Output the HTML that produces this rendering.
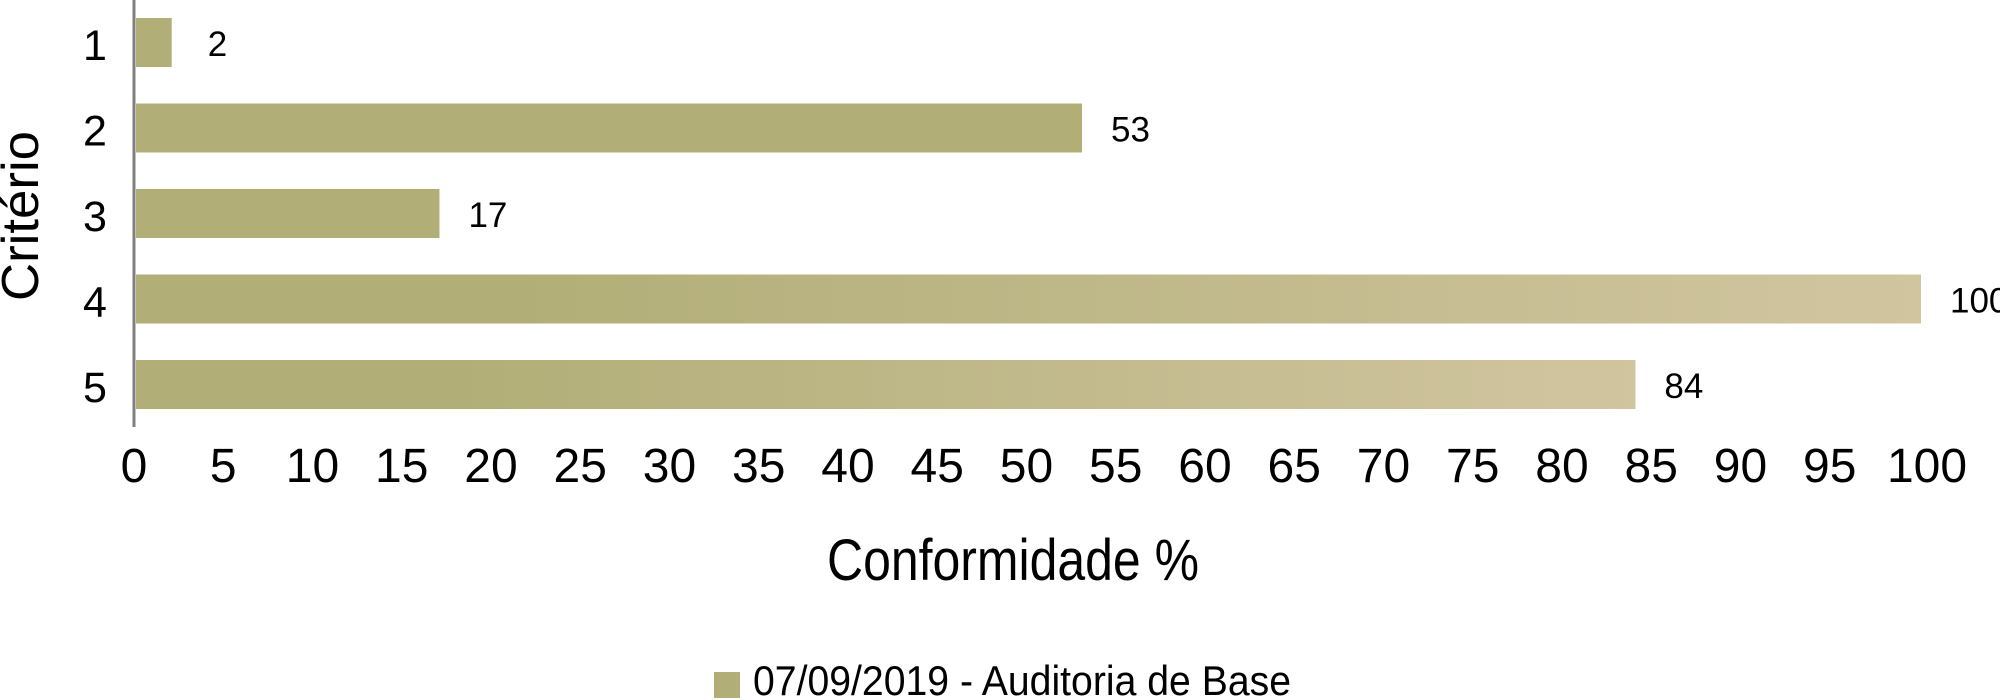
<!DOCTYPE html>
<html><head><meta charset="utf-8"><style>
html,body{margin:0;padding:0;background:#fff;}
svg{display:block;font-family:"Liberation Sans",sans-serif;}
</style></head><body>
<svg id="chart" width="2000" height="700" viewBox="0 0 2000 700">
<defs>
<linearGradient id="grad" x1="0" y1="0" x2="1" y2="0">
<stop offset="0.2" stop-color="#b1ae77"/><stop offset="1" stop-color="#d1c5a0"/>
</linearGradient>
</defs>
<g id="bars"></g>
<g id="xticks"></g>
<g id="yticks"></g>
<line x1="134" y1="0" x2="134" y2="427" stroke="#808080" stroke-width="3"/>
<text x="1013" y="580" font-size="58" text-anchor="middle" textLength="372" lengthAdjust="spacingAndGlyphs" fill="#000">Conformidade %</text>
<text transform="translate(38,216) rotate(-90)" font-size="52" text-anchor="middle" textLength="170" lengthAdjust="spacingAndGlyphs" fill="#000">Critério</text>
<g>
<rect x="714" y="672" width="26" height="26" fill="#b1ae77"/>
<text x="753" y="695" font-size="42" textLength="538" lengthAdjust="spacingAndGlyphs" fill="#000">07/09/2019 - Auditoria de Base</text>
</g>
</svg>
<script>
const categories = ["1","2","3","4","5"];
const values = [2,53,17,100,84];
const gradientBars = [false,false,false,true,true];
const tickValues = [0,5,10,15,20,25,30,35,40,45,50,55,60,65,70,75,80,85,90,95,100];
const NS="http://www.w3.org/2000/svg";
const x0=136, x1=1921;
function xs(v){return x0+(v/100)*(x1-x0);}
function yb(i){return 18+i*85.5;}
const barH=49;
const gb=document.getElementById('bars');
categories.forEach((c,i)=>{
  const r=document.createElementNS(NS,'rect');
  
  
  r.setAttribute('x',x0);r.setAttribute('y',yb(i));
  r.setAttribute('width',xs(values[i])-x0);r.setAttribute('height',barH);
  r.setAttribute('fill',gradientBars[i]?'url(#grad)':'#b1ae77');
  gb.appendChild(r);
  const t=document.createElementNS(NS,'text');
  
  
  t.setAttribute('x',xs(values[i])+(values[i]<10?36:29));
  t.setAttribute('y',yb(i)+38);
  t.setAttribute('font-size','35');
  t.textContent=values[i];
  gb.appendChild(t);
  const l=document.createElementNS(NS,'text');
  
  
  l.setAttribute('x',95);l.setAttribute('y',yb(i)+42);
  l.setAttribute('font-size','43');l.setAttribute('text-anchor','middle');
  l.textContent=c;
  document.getElementById('yticks').appendChild(l);
});
const gx=document.getElementById('xticks');
tickValues.forEach(v=>{
  const t=document.createElementNS(NS,'text');
  
  
  t.setAttribute('x',xs(v)+(v===100?6:-2));t.setAttribute('y',482);
  t.setAttribute('font-size','48');t.setAttribute('text-anchor','middle');
  t.textContent=v;
  gx.appendChild(t);
});
</script>
</body></html>
